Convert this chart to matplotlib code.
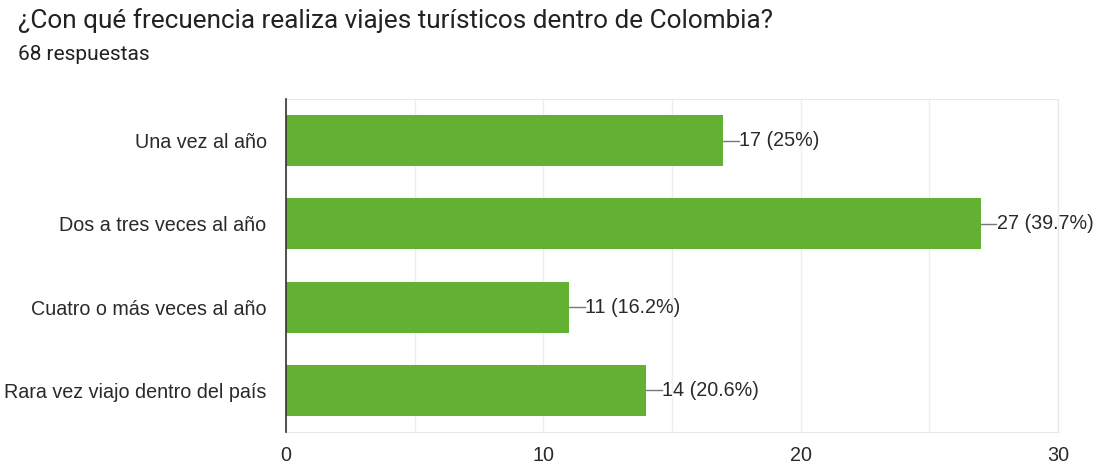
import matplotlib.pyplot as plt

plt.rcParams['font.family'] = ['Liberation Sans', 'DejaVu Sans']

# Datos de la encuesta
categorias = ['Una vez al año', 'Dos a tres veces al año',
              'Cuatro o más veces al año', 'Rara vez viajo dentro del país']
valores = [17, 27, 11, 14]
porcentajes = ['25%', '39.7%', '16.2%', '20.6%']
total = 68

fig = plt.figure(figsize=(11, 4.66), dpi=100)
ax = fig.add_axes([286 / 1100, 1 - 432 / 466, (1058 - 286) / 1100, (432 - 99) / 466])

y = list(range(len(categorias)))
ax.barh(y, valores, height=0.615, color='#62b132', zorder=3)

# Etiquetas con línea guía
for yi, v, p in zip(y, valores, porcentajes):
    ax.plot([v, v + 0.6], [yi, yi], color='#777777', lw=1, zorder=4)
    ax.text(v + 0.62, yi, f'{v} ({p})', va='center', ha='left',
            fontsize=14.2, color='#2a2a2a')

ax.set_ylim(len(categorias) - 0.5, -0.5)
ax.set_xlim(0, 30)
ax.set_yticks(y)
ax.set_yticklabels(categorias, fontsize=14.2, color='#2a2a2a')
ax.set_xticks([0, 10, 20, 30])
ax.set_xticklabels(['0', '10', '20', '30'], fontsize=14.2, color='#2a2a2a')
ax.set_xticks([5, 15, 25], minor=True)
ax.tick_params(axis='y', length=0, pad=14)
ax.tick_params(axis='x', which='both', length=0, pad=10)
ax.grid(axis='x', which='both', color='#eeeeee', lw=1, zorder=0)

for s in ['top', 'right', 'bottom']:
    ax.spines[s].set_color('#e8e8e8')
ax.spines['left'].set_color('#333333')
ax.spines['left'].set_linewidth(1.2)
ax.spines['left'].set_zorder(5)

fig.text(18 / 1100, 1 - 21 / 466, '¿Con qué frecuencia realiza viajes turísticos dentro de Colombia?',
         fontsize=18.8, color='#222222', va='center', ha='left', family=['Roboto', 'DejaVu Sans'])
fig.text(18 / 1100, 1 - 55 / 466, f'{total} respuestas',
         fontsize=15, color='#222222', va='center', ha='left', family=['Roboto', 'DejaVu Sans'])

fig.savefig('out.png', dpi=100, facecolor='white')
